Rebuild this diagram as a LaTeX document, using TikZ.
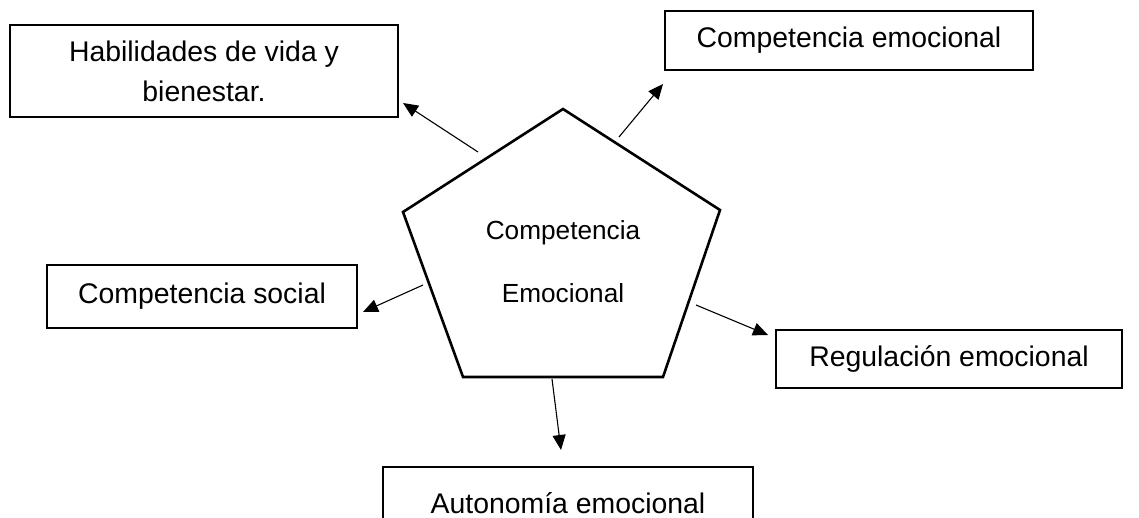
\documentclass[tikz,border=0pt]{standalone}
\usepackage{fontspec}
\setmainfont{Liberation Sans}
\usetikzlibrary{arrows.meta}
\begin{document}
\begin{tikzpicture}[x=0.5pt,y=-0.5pt,
  box/.style={draw,line width=1.2pt,inner sep=0pt,align=center,
    font=\fontsize{14.2}{20}\selectfont},
  link/.style={line width=0.55pt,-{Triangle[length=7.5pt,width=6.5pt]}},
  penta/.style={draw,line width=1.3pt,line join=miter}]
\useasboundingbox (0,0) rectangle (1139,518);
\clip (0,0) rectangle (1139,518);
% boxes
\node[box,minimum width=194pt,minimum height=46pt] (hab) at (204,71)
  {Habilidades de vida y\\bienestar.};
\node[box,minimum width=184pt,minimum height=29.5pt] (ce) at (849,40.5)
  {Competencia emocional};
\node[box,minimum width=155pt,minimum height=31.5pt] (cs) at (202,296.5)
  {Competencia social};
\node[box,minimum width=173pt,minimum height=29pt] (re) at (949,359)
  {Regulación emocional};
\node[box,minimum width=185pt,minimum height=36pt] (ae) at (568,503)
  {Autonomía emocional};
% pentagon
\coordinate (p1) at (563,109);
\coordinate (p2) at (720,210);
\coordinate (p3) at (663,377);
\coordinate (p4) at (463,377);
\coordinate (p5) at (403,212);
\draw[penta] (p1) -- (p2) -- (p3) -- (p4) -- (p5) -- cycle;
\node[align=center,font=\fontsize{13.1}{31.5}\selectfont] (core) at (563,262)
  {Competencia\\Emocional};
% connector ends
\coordinate (s1) at (478,152); \coordinate (t1) at (403,103);
\coordinate (s2) at (619,137); \coordinate (t2) at (663,84);
\coordinate (s3) at (423,285); \coordinate (t3) at (363,312);
\coordinate (s4) at (696,305); \coordinate (t4) at (768,335);
\coordinate (s5) at (552,379); \coordinate (t5) at (561,450);
\draw[link] (s1) -- (t1);
\draw[link] (s2) -- (t2);
\draw[link] (s3) -- (t3);
\draw[link] (s4) -- (t4);
\draw[link] (s5) -- (t5);
\end{tikzpicture}
\end{document}
